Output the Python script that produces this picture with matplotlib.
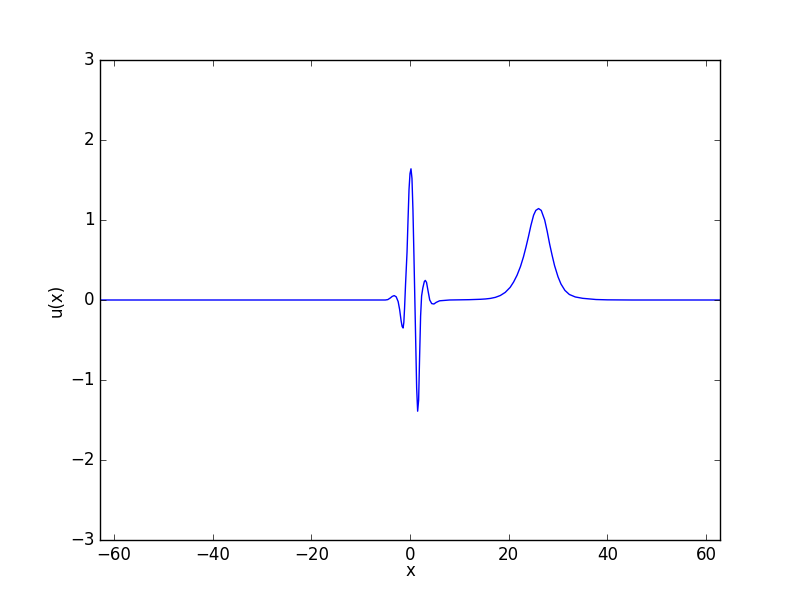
import numpy as np
import matplotlib
matplotlib.use("Agg")
import matplotlib.pyplot as plt

# points
x = [-62.83, -20, -6, -5, -4.5, -4.0, -3.6, -3.2, -2.8, -2.4, -2.1, -1.8, -1.6,
     -1.4, -1.25, -1.1, -0.9, -0.6, -0.4, -0.2, 0.0, 0.2, 0.4, 0.6, 0.8, 1.0,
     1.2, 1.35, 1.55, 1.75, 1.95, 2.15, 2.35, 2.6, 2.9, 3.1, 3.35, 3.7, 4.0,
     4.4, 4.85, 5.3, 6.0, 7.0, 8.0, 10, 12, 14.3, 15.3, 16.3, 17.3, 18.3, 19.3,
     20.3, 21.0, 21.7, 22.4, 23.0, 23.5, 24.0, 24.5, 25.05, 25.5, 26.06, 26.6,
     27.3, 27.8, 28.3, 28.8, 29.3, 30.0, 30.6, 31.4, 32.3, 33.5, 35.0, 37.7,
     40, 45, 62.83]
u = [0, 0, 0, 0, 0.005, 0.025, 0.045, 0.055, 0.04, -0.02, -0.12, -0.26, -0.33,
     -0.35, -0.28, -0.1, 0.2, 0.6, 1.0, 1.38, 1.58, 1.64, 1.52, 1.12, 0.55, -0.05,
     -0.65, -1.1, -1.39, -1.25, -0.7, -0.2, 0.05, 0.15, 0.23, 0.245, 0.22, 0.1, 0.0,
     -0.045, -0.05, -0.03, -0.01, -0.005, 0.0, 0.002, 0.004, 0.009, 0.013, 0.02,
     0.033, 0.056, 0.095, 0.158, 0.225, 0.31, 0.42, 0.54, 0.66, 0.79, 0.93,
     1.06, 1.12, 1.143, 1.12, 1.0, 0.86, 0.70, 0.56, 0.43, 0.29, 0.20, 0.12,
     0.069, 0.038, 0.021, 0.006, 0.002, 0.0, 0]

plt.style.use('classic')
fig = plt.figure(figsize=(8, 6), dpi=100)
fig.patch.set_facecolor('white')
ax = fig.add_subplot(111)
ax.plot(x, u, 'b-')
ax.set_xlim(-20 * np.pi, 20 * np.pi)
ax.set_ylim(-3, 3)
ax.set_xticks([-60, -40, -20, 0, 20, 40, 60])
ax.set_yticks([-3, -2, -1, 0, 1, 2, 3])
ax.set_xlabel('x', labelpad=-1)
ax.set_ylabel('u(x)', labelpad=3)
fig.savefig('out.png', dpi=100, facecolor='white')
